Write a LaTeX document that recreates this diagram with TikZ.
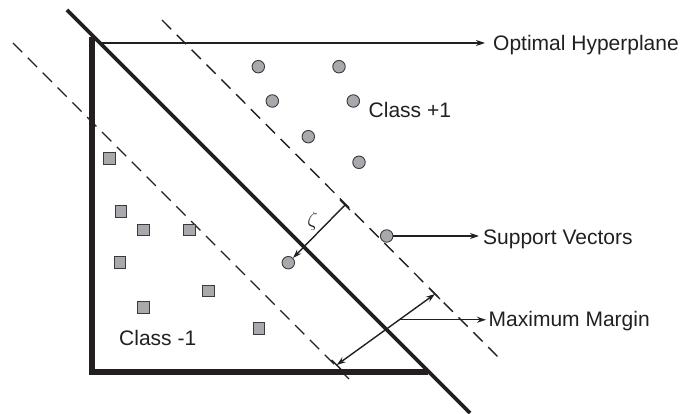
\documentclass[tikz,border=0pt]{standalone}
\usepackage{fontspec}
\setmainfont{Liberation Sans}
\usetikzlibrary{arrows.meta,calc}
\definecolor{ink}{HTML}{231F20}
\definecolor{dotfill}{HTML}{A7A9AC}
\definecolor{dotline}{HTML}{3A3A3C}
\begin{document}
\begin{tikzpicture}[x=1pt,y=-1pt,
  axisline/.style={line width=6pt, draw=ink},
  hyper/.style={line width=3.6pt, draw=ink},
  marginline/.style={line width=1.4pt, draw=ink, dash pattern=on 13pt off 8pt},
  pt/.style={circle, draw=dotline, fill=dotfill, line width=0.9pt, minimum size=12.5pt, inner sep=0pt},
  sq/.style={rectangle, draw=dotline, fill=dotfill, line width=0.9pt, minimum size=11.5pt, inner sep=0pt},
  lbl/.style={font=\fontsize{21}{25}\selectfont, text=ink, inner sep=0pt},
  conn/.style={line width=1.4pt, draw=ink, -{Stealth[length=9pt,width=6pt]}},
  dconn/.style={line width=1.4pt, draw=ink, {Stealth[length=9pt,width=6pt]}-{Stealth[length=9pt,width=6pt]}},
  tickmark/.style={line width=1.4pt, draw=ink}
]
\useasboundingbox (0,0) rectangle (694,414);

% hyperplane and margins
\coordinate (h1) at (67,10);
\coordinate (h2) at (470,413);
\draw[hyper] (h1) -- (h2);
\coordinate (u1) at (162,20);
\coordinate (u2) at (498,357);
\draw[marginline] (u1) -- (u2);
\coordinate (l1) at (13,43);
\coordinate (l2) at (350,380);
\draw[marginline] (l1) -- (l2);

% axes
\coordinate (ax1) at (92,37);
\coordinate (ax0) at (92,372);
\coordinate (ax2) at (428,372);
\draw[axisline] (ax1) -- (ax0) -- (ax2);

% class +1
\node[pt] (c1) at (258.3,66.7) {};
\node[pt] (c2) at (339,66.7) {};
\node[pt] (c3) at (272.3,101) {};
\node[pt] (c4) at (353.3,101) {};
\node[pt] (c5) at (308.3,136.7) {};
\node[pt] (c6) at (359,162.3) {};
\node[pt] (sv1) at (386.7,236) {};
\node[pt] (sv2) at (288.3,262.7) {};

% class -1
\node[sq] (s1) at (109.3,158.7) {};
\node[sq] (s2) at (120.7,211.7) {};
\node[sq] (s3) at (143.3,230) {};
\node[sq] (s4) at (189.3,230) {};
\node[sq] (s5) at (120,262.7) {};
\node[sq] (s6) at (208.3,291) {};
\node[sq] (s7) at (143.3,307.3) {};
\node[sq] (s8) at (258.7,328.7) {};

% labels
\node[lbl, anchor=base west] (cp) at (368.5,117.5) {Class +1};
\node[lbl, anchor=base west] (cm) at (119,345) {Class -1};
\node[lbl, anchor=base west] (ot) at (493,50.7) {Optimal Hyperplane};
\node[lbl, anchor=base west] (svt) at (483,245) {Support Vectors};
\node[lbl, anchor=base west] (mmt) at (488.5,326.7) {Maximum Margin};

% optimal hyperplane pointer
\coordinate (oh) at (100,43);
\draw[conn, shorten >=8pt] (oh) -- (oh -| ot.west);

% support vectors pointer
\draw[conn, shorten >=4pt] (sv1.east) -- (sv1.east -| svt.west);

% zeta
\coordinate (zt) at (345,205);
\draw[tickmark] ($(zt)+(-5,-5)$) -- ($(zt)+(5,5)$);
\draw[conn] (zt) -- (sv2);
\node[font=\fontsize{22}{26}\selectfont, text=ink, inner sep=0pt] (zl) at (312.5,221) {$\zeta$};

% maximum margin
\coordinate (ma) at (435,294);
\coordinate (mb) at (336.7,365);
\draw[tickmark] ($(ma)+(-5,-5)$) -- ($(ma)+(5,5)$);
\draw[tickmark] ($(mb)+(-5,-5)$) -- ($(mb)+(5,5)$);
\draw[dconn] (mb) -- (ma);
\coordinate (mm) at ($(ma)!0.363!(mb)$);
\draw[conn, shorten >=2.5pt] (mm) -- (mm -| mmt.west);
\end{tikzpicture}
\end{document}
